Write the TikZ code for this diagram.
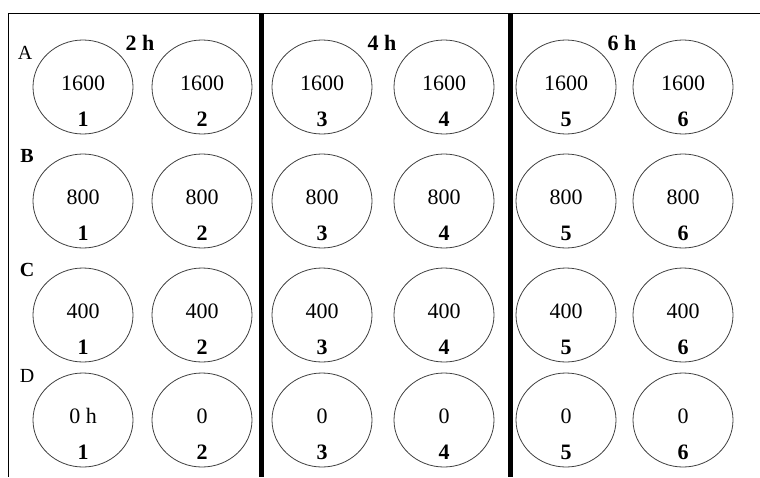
\documentclass[tikz,border=0pt]{standalone}
\usepackage{fontspec}
\setmainfont{Liberation Serif}
\usepackage{tikz}
\usetikzlibrary{positioning, shapes.geometric, calc}
\tikzset{
  well/.style={ellipse, draw=black!75, line width=0.8pt, minimum width=100pt,
               minimum height=94pt, inner sep=0pt},
  val/.style={inner sep=0pt, font=\fontsize{22}{24}\selectfont},
  idx/.style={inner sep=0pt, font=\fontsize{22}{24}\selectfont\bfseries},
  rowlbl/.style={inner sep=0pt, font=\fontsize{20}{22}\selectfont},
  hdr/.style={inner sep=0pt, font=\fontsize{22}{24}\selectfont\bfseries},
  sep/.style={line width=5pt},
  frame/.style={line width=1pt},
}
% one well: name, x, y, dose, tube number
\newcommand{\well}[5]{%
  \node[well] (#1) at (#2,#3) {};
  \node[val] (#1v) at ([yshift=4pt]#1.center) {#4};
  \node[idx] (#1n) at ([yshift=-32pt]#1.center) {#5};
}

\begin{document}
\begin{tikzpicture}[x=1pt, y=-1pt]
  \useasboundingbox (0,0) rectangle (760,477);
  % frame and time blocks
  \draw[frame] (760,13) -- (8,13) -- (8,477);
  \draw[sep] (261,13) -- (261,477);
  \draw[sep] (510,13) -- (510,477);

  \node[hdr] (t2) at (140,43) {2 h};
  \node[hdr] (t4) at (382,43) {4 h};
  \node[hdr] (t6) at (622,43) {6 h};

  \node[rowlbl] (ra) at (25,53) {A};
  \node[rowlbl, font=\fontsize{20}{22}\selectfont\bfseries] (rb) at (27,156) {B};
  \node[rowlbl, font=\fontsize{20}{22}\selectfont\bfseries] (rc) at (27,270) {C};
  \node[rowlbl] (rd) at (27,376) {D};

  % row A
  \well{a1}{83}{87}{1600}{1}
  \well{a2}{202}{87}{1600}{2}
  \well{a3}{322}{87}{1600}{3}
  \well{a4}{444}{87}{1600}{4}
  \well{a5}{566}{87}{1600}{5}
  \well{a6}{683}{87}{1600}{6}
  % row B
  \well{b1}{83}{201}{800}{1}
  \well{b2}{202}{201}{800}{2}
  \well{b3}{322}{201}{800}{3}
  \well{b4}{444}{201}{800}{4}
  \well{b5}{566}{201}{800}{5}
  \well{b6}{683}{201}{800}{6}
  % row C
  \well{c1}{83}{315}{400}{1}
  \well{c2}{202}{315}{400}{2}
  \well{c3}{322}{315}{400}{3}
  \well{c4}{444}{315}{400}{4}
  \well{c5}{566}{315}{400}{5}
  \well{c6}{683}{315}{400}{6}
  % row D
  \well{d1}{83}{420}{0 h}{1}
  \well{d2}{202}{420}{0}{2}
  \well{d3}{322}{420}{0}{3}
  \well{d4}{444}{420}{0}{4}
  \well{d5}{566}{420}{0}{5}
  \well{d6}{683}{420}{0}{6}
\end{tikzpicture}
\end{document}
